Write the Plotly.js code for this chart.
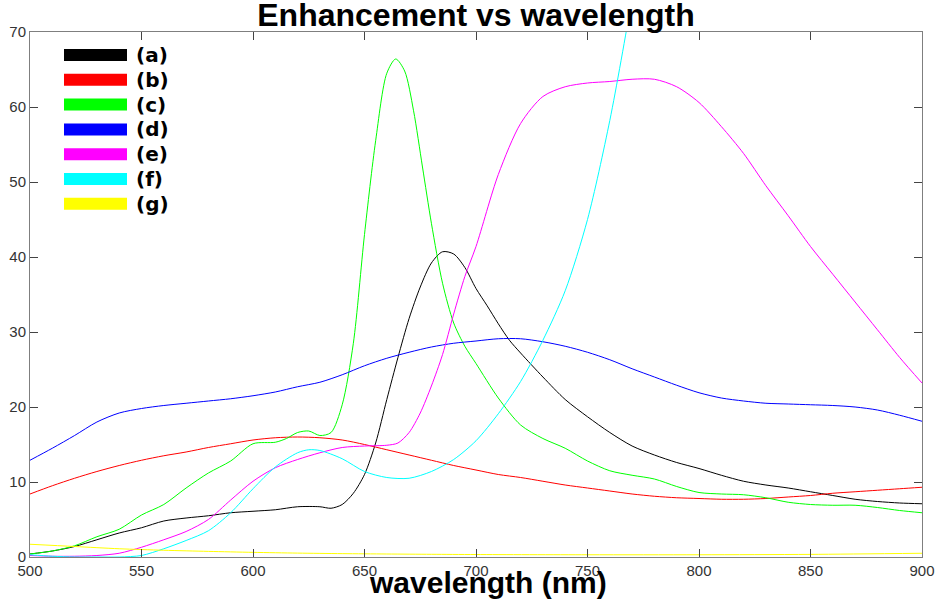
<!DOCTYPE html>
<html>
<head>
<meta charset="utf-8">
<script src="https://cdn.plot.ly/plotly-3.0.1.min.js"></script>
<style>html,body{margin:0;padding:0;background:#fff;}#chart{width:938px;height:604px;}</style>
</head>
<body>
<div id="chart"></div>
<script>
// ---- data ----
const seriesNames = ['(a)', '(b)', '(c)', '(d)', '(e)', '(f)', '(g)'];
const seriesColors = ['#000000', '#ff0000', '#00ff00', '#0000ff', '#ff00ff', '#00ffff', '#ffff00'];

const xA = [500,510,520,530,540,550,560,570,580,590,600,610,620,630,635,640,645,650,655,660,665,670,675,680,685,690,695,700,705,710,715,720,730,740,750,760,770,780,790,800,810,820,830,840,850,860,870,880,890,900];
const yA = [0.4,0.8,1.4,2.3,3.2,3.9,4.8,5.2,5.5,5.9,6.1,6.3,6.7,6.7,6.5,7.0,8.5,11.0,15.2,21.0,26.6,31.8,36.0,39.2,40.7,40.4,38.6,35.8,33.5,31.1,28.9,27.2,24.0,21.0,18.7,16.6,14.8,13.6,12.6,11.8,10.9,10.1,9.6,9.2,8.7,8.2,7.7,7.4,7.2,7.1];

const xB = [500,510,520,530,540,550,560,570,580,590,600,610,620,630,640,650,660,670,680,690,700,710,720,730,740,750,760,770,780,790,800,810,820,830,840,850,860,870,880,890,900];
const yB = [8.4,9.5,10.5,11.4,12.2,12.9,13.5,14.0,14.6,15.1,15.6,15.9,16.0,15.9,15.6,15.0,14.3,13.6,12.9,12.2,11.6,11.0,10.6,10.1,9.6,9.2,8.8,8.4,8.1,7.9,7.8,7.7,7.7,7.8,8.0,8.2,8.5,8.7,8.9,9.1,9.3];

const xC = [500,510,520,530,540,550,560,570,580,590,600,610,615,620,625,630,635,640,645,650,655,660,664,668,672,676,680,685,690,695,700,710,720,730,740,750,760,770,780,790,800,810,820,830,840,850,860,870,880,890,900];
const yC = [0.4,0.8,1.5,2.7,3.7,5.6,7.0,9.2,11.2,12.8,15.1,15.3,15.8,16.6,16.8,16.2,16.6,20.3,28.5,43.0,55.5,64.5,66.4,64.8,59.5,52.0,44.5,36.5,31.2,28.1,25.8,21.2,17.6,15.8,14.5,12.8,11.5,10.9,10.4,9.4,8.6,8.4,8.3,7.9,7.3,7.0,6.9,6.9,6.6,6.2,5.9];

const xD = [500,510,520,530,540,550,560,570,580,590,600,610,620,630,640,650,660,670,680,690,700,710,720,730,740,750,760,770,780,790,800,810,820,830,840,850,860,870,880,890,900];
const yD = [12.9,14.5,16.2,18.0,19.2,19.8,20.2,20.5,20.8,21.1,21.5,22.0,22.7,23.3,24.3,25.5,26.5,27.3,28.0,28.5,28.8,29.1,29.1,28.7,28.1,27.3,26.3,25.1,24.0,22.9,21.9,21.2,20.8,20.5,20.4,20.3,20.2,20.0,19.6,18.9,18.1];

const xE = [500,510,520,530,540,550,560,570,580,590,600,610,620,630,640,650,660,665,670,675,680,685,690,695,700,710,720,730,740,750,760,770,780,790,800,810,820,830,840,850,860,870,880,890,900];
const yE = [0.2,0.1,0.1,0.2,0.5,1.3,2.3,3.4,5.0,7.6,10.1,11.9,13.0,13.9,14.6,14.8,14.9,15.2,16.6,19.2,22.8,27.0,32.4,37.4,41.4,51.0,57.8,61.4,62.7,63.2,63.4,63.7,63.7,62.7,60.6,57.4,53.8,49.5,45.5,41.4,37.7,34.0,30.3,26.6,23.2];

const xF = [500,510,520,530,540,550,560,570,580,590,600,610,620,625,630,640,650,660,670,680,690,700,710,720,730,740,750,760,770,780];
const yF = [0.3,0.1,0.0,0.0,0.0,0.2,1.1,2.2,3.5,5.9,9.1,12.0,13.9,14.3,14.2,13.1,11.4,10.6,10.5,11.4,13.0,15.5,19.1,23.4,28.9,35.5,45.0,58.2,74.5,92.0];

const xG = [500,520,540,560,580,600,620,640,660,680,700,750,800,850,900];
const yG = [1.7,1.4,1.1,0.9,0.75,0.62,0.52,0.45,0.4,0.36,0.33,0.3,0.3,0.35,0.5];

const xTickVals = [500,550,600,650,700,750,800,850,900];
const yTickVals = [0,10,20,30,40,50,60,70];

// ---- chart ----
const xs = [xA, xB, xC, xD, xE, xF, xG];
const ys = [yA, yB, yC, yD, yE, yF, yG];
const traces = xs.map((x, i) => ({
  x: x, y: ys[i], type: 'scatter', mode: 'lines', name: seriesNames[i],
  line: {color: seriesColors[i], width: 1, shape: 'spline', smoothing: 0.8},
  showlegend: false, hoverinfo: 'skip'
}));

const W = 938, H = 604;
const L = 30, R = 16, T = 32, B = 47;
const pw = W - L - R, ph = H - T - B;
const px2paperX = p => (p - L) / pw;
const px2paperY = p => (H - B - p) / ph;

const shapes = [];
const annotations = [];
const legendRows = [55, 79.8, 104.6, 129.4, 154.2, 179, 203.8];
seriesNames.forEach((nm, i) => {
  const cy = legendRows[i];
  shapes.push({type: 'rect', xref: 'paper', yref: 'paper',
    x0: px2paperX(64), x1: px2paperX(127), y0: px2paperY(cy + 6), y1: px2paperY(cy - 6),
    fillcolor: seriesColors[i], line: {width: 0}, layer: 'above'});
  annotations.push({xref: 'paper', yref: 'paper', x: px2paperX(134), y: px2paperY(cy),
    xanchor: 'left', yanchor: 'middle', showarrow: false, text: nm,
    font: {family: 'DejaVu Sans', size: 20, color: '#000', weight: 'bold'}});
});
annotations.push({xref: 'paper', yref: 'paper', x: px2paperX(488), y: px2paperY(582),
  xanchor: 'center', yanchor: 'middle', showarrow: false, text: 'wavelength (nm)',
  font: {family: 'Liberation Sans, Arial', size: 30, color: '#000', weight: 'bold'}});

const axisCommon = {
  showgrid: false, zeroline: false, showline: true, linecolor: '#7f7f7f', linewidth: 1,
  mirror: 'ticks', ticks: 'inside', ticklen: 8, tickcolor: '#444', tickwidth: 1,
  tickfont: {family: 'Liberation Sans, Arial', size: 15, color: '#333'}
};

const layout = {
  width: W, height: H,
  margin: {l: L, r: R, t: T, b: B, pad: 0},
  paper_bgcolor: '#fff', plot_bgcolor: '#fff',
  title: {text: 'Enhancement vs wavelength', x: 0.5, xref: 'paper', xanchor: 'center',
    y: 1 - 15 / H, yref: 'container', yanchor: 'middle',
    font: {family: 'Liberation Sans, Arial', size: 32, color: '#000', weight: 'bold'}},
  xaxis: Object.assign({}, axisCommon, {range: [500, 900], tickvals: xTickVals, ticktext: xTickVals.map(String)}),
  yaxis: Object.assign({}, axisCommon, {range: [0, 70], tickvals: yTickVals, ticktext: yTickVals.map(String)}),
  shapes: shapes, annotations: annotations
};

Plotly.newPlot('chart', traces, layout, {displayModeBar: false, staticPlot: true});
</script>
</body>
</html>
